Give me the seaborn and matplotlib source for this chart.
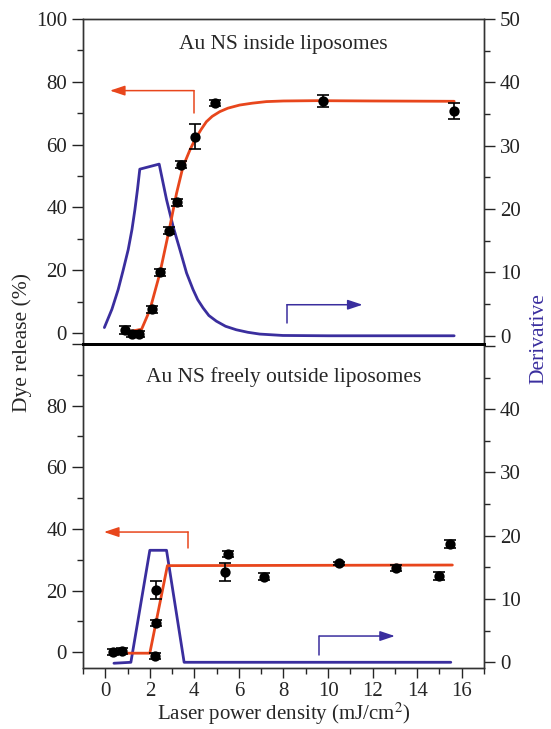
import matplotlib
matplotlib.use("Agg")
import matplotlib.pyplot as plt
import seaborn as sns
import numpy as np
import pandas as pd
from matplotlib.ticker import MultipleLocator

sns.set_style("ticks")
plt.rcParams['font.family'] = ['Liberation Serif', 'DejaVu Serif']
plt.rcParams['mathtext.fontset'] = 'stix'

ORANGE = "#e8461c"
BLUE = "#3a2e9e"

# ---------------- Top panel: Au NS inside liposomes ----------------
top_x = [0.9, 1.2, 1.5, 2.08, 2.45, 2.85, 3.2, 3.39, 4.05, 4.94, 9.76, 15.66]
top_y = [0.9, -0.3, -0.2, 7.5, 19.3, 32.6, 41.6, 53.6, 62.5, 73.3, 73.9, 70.8]
top_err = [1.2, 1.0, 1.0, 1.2, 1.2, 1.2, 1.2, 1.2, 4.0, 1.0, 2.0, 2.5]

top_fit_x = [0.88, 1.63, 2.0, 2.45, 2.9, 3.2, 3.49, 3.8, 4.02, 4.3, 4.54, 4.8, 5.14, 5.5, 6.03, 6.6, 7.23, 8.0, 9.47, 12.0, 15.66]
top_fit_y = [0.2, 1.2, 7.3, 19.0, 33.9, 44.5, 53.0, 58.3, 61.5, 64.8, 67.3, 69.0, 70.5, 71.6, 72.6, 73.2, 73.7, 73.9, 74.0, 73.9, 73.8]

top_der_x = [-0.04, 0.3, 0.58, 0.8, 1.03, 1.2, 1.33, 1.45, 1.55, 2.42, 2.75, 3.05, 3.35, 3.65, 3.94, 4.15, 4.39, 4.65, 4.99, 5.4, 5.88, 6.4, 6.93, 7.97, 10.0, 15.66]
top_der_y = [1.3, 4.2, 7.3, 10.3, 13.6, 16.8, 19.9, 23.2, 26.3, 27.1, 21.5, 17.2, 13.6, 9.9, 7.3, 5.7, 4.4, 3.2, 2.3, 1.5, 0.95, 0.55, 0.27, 0.05, 0.0, 0.0]

# ---------------- Bottom panel: Au NS freely outside liposomes ----------------
bot_x = [0.36, 0.73, 2.23, 2.27, 2.26, 5.51, 5.36, 7.12, 10.51, 13.05, 14.96, 15.47]
bot_y = [0.2, 0.4, -1.2, 9.4, 20.2, 31.8, 26.0, 24.5, 28.9, 27.3, 24.8, 35.1]
bot_err = [1.0, 1.0, 1.0, 1.0, 2.8, 1.0, 2.8, 1.2, 0.5, 1.0, 1.2, 1.2]

bot_fit_x = [0.36, 2.0, 2.79, 15.58]
bot_fit_y = [-0.3, -0.3, 28.1, 28.3]

bot_der_x = [0.39, 1.15, 2.0, 2.75, 3.54, 15.51]
bot_der_y = [-0.15, 0.0, 17.7, 17.7, 0.0, 0.0]

panels = [
    dict(x=top_x, y=top_y, err=top_err, fx=top_fit_x, fy=top_fit_y,
         dx=top_der_x, dy=top_der_y, title="Au NS inside liposomes",
         ylim=(-3.5, 100), y2lim=(-1.3, 50), tpos=(8.0, 92),
         oarrow=((3.99, 70.0), (3.99, 77.2), (0.21, 77.2)),
         barrow=((8.15, 2.0), (8.15, 4.9), (11.55, 4.9))),
    dict(x=bot_x, y=bot_y, err=bot_err, fx=bot_fit_x, fy=bot_fit_y,
         dx=bot_der_x, dy=bot_der_y, title="Au NS freely outside liposomes",
         ylim=(-5.1, 100), y2lim=(-0.9, 50.3), tpos=(8.0, 89.4),
         oarrow=((3.72, 33.8), (3.72, 39.0), (-0.06, 39.0)),
         barrow=((9.61, 1.15), (9.61, 4.15), (13.0, 4.15))),
]

fig = plt.figure(figsize=(5.51, 7.29), dpi=100)
rects = [[0.1506, 0.5281, 0.7278, 0.4458], [0.1506, 0.0837, 0.7278, 0.4444]]

TICK_FS = 15
for i, (p, r) in enumerate(zip(panels, rects)):
    ax = fig.add_axes(r)
    ax2 = ax.twinx()
    ax.set_zorder(ax2.get_zorder() + 1)
    ax.patch.set_visible(False)

    # derivative curve (right axis)
    sns.lineplot(x=p["dx"], y=p["dy"], ax=ax2, color=BLUE, lw=2.0, sort=False)
    # fit curve (left axis)
    sns.lineplot(x=p["fx"], y=p["fy"], ax=ax, color=ORANGE, lw=2.0, sort=False, zorder=3)
    # data points with error bars
    ax.errorbar(p["x"], p["y"], yerr=p["err"], fmt="none", ecolor="black",
                elinewidth=1.2, capsize=4, capthick=1.2, zorder=4)
    sns.scatterplot(x=p["x"], y=p["y"], ax=ax, color="black", s=55,
                    edgecolor="black", linewidth=0, zorder=5)

    # arrows
    (a0, a1, a2) = p["oarrow"]
    ax.plot([a0[0], a1[0]], [a0[1], a1[1]], color=ORANGE, lw=1.1)
    ax.annotate("", xy=a2, xytext=a1,
                arrowprops=dict(arrowstyle="-|>,head_length=0.9,head_width=0.3",
                                color=ORANGE, lw=1.1, shrinkA=0, shrinkB=0))
    (b0, b1, b2) = p["barrow"]
    ax2.plot([b0[0], b1[0]], [b0[1], b1[1]], color=BLUE, lw=1.1)
    ax2.annotate("", xy=b2, xytext=b1,
                 arrowprops=dict(arrowstyle="-|>,head_length=0.9,head_width=0.3",
                                 color=BLUE, lw=1.1, shrinkA=0, shrinkB=0))

    ax.text(p["tpos"][0], p["tpos"][1], p["title"], ha="center", va="center",
            fontsize=15.5)

    ax.set_xlim(-1, 17)
    ax.set_ylim(*p["ylim"])
    ax2.set_ylim(*p["y2lim"])

    ax.yaxis.set_major_locator(MultipleLocator(20))
    ax.yaxis.set_minor_locator(MultipleLocator(10))
    ax2.yaxis.set_major_locator(MultipleLocator(10))
    ax2.yaxis.set_minor_locator(MultipleLocator(5))
    ax.xaxis.set_major_locator(MultipleLocator(2))
    ax.xaxis.set_minor_locator(MultipleLocator(1))

    ax.tick_params(axis="y", which="major", direction="out", length=8, width=1,
                   labelsize=TICK_FS, colors="#222222", labelcolor="#222222")
    ax.tick_params(axis="y", which="minor", direction="out", length=4.5, width=1)
    ax2.tick_params(axis="y", which="major", direction="out", length=8, width=1,
                    labelsize=TICK_FS, labelcolor="#222222")
    ax2.tick_params(axis="y", which="minor", direction="out", length=4.5, width=1)
    ax.tick_params(axis="x", which="major", direction="out", length=7, width=1,
                   labelsize=TICK_FS, pad=3)
    ax.tick_params(axis="x", which="minor", direction="out", length=4.5, width=1)

    for a in (ax, ax2):
        for s in a.spines.values():
            s.set_linewidth(1.0)
            s.set_color("#333333")
        a.set_ylabel("")
        a.set_xlabel("")

    if i == 0:
        ax.tick_params(axis="x", which="both", bottom=False, labelbottom=False)
        ax.spines["bottom"].set_linewidth(2.0)
        ax.spines["bottom"].set_color("black")
        ax2.spines["bottom"].set_linewidth(2.0)
        ax2.spines["bottom"].set_color("black")
    else:
        ax.spines["top"].set_linewidth(2.0)
        ax.spines["top"].set_color("black")
        ax2.spines["top"].set_linewidth(2.0)
        ax2.spines["top"].set_color("black")
        yt = ax.get_yticks()
        ax.set_yticks([t for t in yt if -5 <= t <= 100])
        ax.set_yticklabels([("%d" % t) if t <= 80 else "" for t in ax.get_yticks()])
        yt2 = ax2.get_yticks()
        ax2.set_yticks([t for t in yt2 if -1 <= t <= 50])
        ax2.set_yticklabels([("%d" % t) if t <= 40 else "" for t in ax2.get_yticks()])
        ax.set_xlabel("Laser power density (mJ/cm$^{2}$)", fontsize=15, labelpad=0)

fig.text(0.04, 0.53, "Dye release (%)", rotation=90, ha="center", va="center",
         fontsize=15.5)
fig.text(0.978, 0.535, "Derivative", rotation=90, ha="center", va="center",
         fontsize=15.5, color=BLUE)

fig.savefig("out.png", dpi=100)
